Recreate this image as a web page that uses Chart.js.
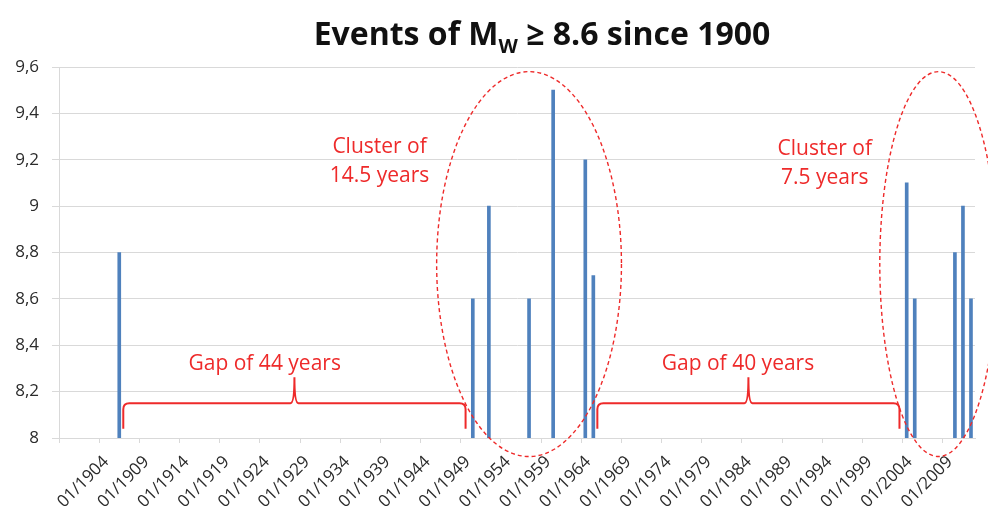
<!DOCTYPE html>
<html>
<head>
<meta charset="utf-8">
<script src="https://cdn.jsdelivr.net/npm/chart.js@4.4.1/dist/chart.umd.min.js"></script>
<style>
  html, body { margin: 0; padding: 0; background: #fff; }
  #wrap { width: 988px; height: 507px; position: relative; }
</style>
</head>
<body>
<div id="wrap"><canvas id="quakeChart"></canvas></div>
<script>
// events: decimal year (bars sit in the middle of their year) and magnitude Mw
const eventYears = [1906.5, 1950.5, 1952.5, 1957.5, 1960.5, 1964.5, 1965.5, 2004.5, 2005.5, 2010.5, 2011.5, 2012.5];
const magnitudes = [8.8, 8.6, 9.0, 8.6, 9.5, 9.2, 8.7, 9.1, 8.6, 8.8, 9.0, 8.6];

const xTickYears = [1899, 1904, 1909, 1914, 1919, 1924, 1929, 1934, 1939, 1944, 1949, 1954,
                    1959, 1964, 1969, 1974, 1979, 1984, 1989, 1994, 1999, 2004, 2009];
const xTickLabels = ['', '01/1904', '01/1909', '01/1914', '01/1919', '01/1924', '01/1929', '01/1934',
                     '01/1939', '01/1944', '01/1949', '01/1954', '01/1959', '01/1964', '01/1969',
                     '01/1974', '01/1979', '01/1984', '01/1989', '01/1994', '01/1999', '01/2004', '01/2009'];
const yTickValues = [8, 8.2, 8.4, 8.6, 8.8, 9, 9.2, 9.4, 9.6];
const yTickLabels = ['8', '8,2', '8,4', '8,6', '8,8', '9', '9,2', '9,4', '9,6'];

// annotations, given in data units (year, magnitude)
const clusters = [
  { year: 1957.5, mag: 8.75, yearRadius: 11.5, magRadius: 0.83 },
  { year: 2008.45, mag: 8.75, yearRadius: 7.3, magRadius: 0.83 }
];
const clusterTexts = [
  { year: 1938.9, mags: [9.229, 9.106], lines: ['Cluster of', '14.5 years'] },
  { year: 1994.3, mags: [9.221, 9.096], lines: ['Cluster of', '7.5 years'] }
];
const gaps = [
  { from: 1907.0, to: 1949.6, peak: 1928.3, text: 'Gap of 44 years', textYear: 1924.6 },
  { from: 1966.0, to: 2003.6, peak: 1984.8, text: 'Gap of 40 years', textYear: 1983.5 }
];
const braceEndMag = 8.04, braceMag = 8.15, bracePeakMag = 8.262, gapTextMag = 8.292;

const RED = '#ee2a2a';
const FONT = "'Open Sans', 'Noto Sans', sans-serif";

const annotations = {
  id: 'annotations',
  afterDraw(chart) {
    const { ctx, scales: { x, y } } = chart;
    ctx.save();
    ctx.strokeStyle = RED;
    ctx.fillStyle = RED;

    // dashed ellipses round the clusters
    ctx.lineWidth = 1.4;
    ctx.setLineDash([4, 3]);
    clusters.forEach(c => {
      const cx = x.getPixelForValue(c.year);
      const cy = y.getPixelForValue(c.mag);
      const rx = x.getPixelForValue(c.year + c.yearRadius) - cx;
      const ry = cy - y.getPixelForValue(c.mag + c.magRadius);
      ctx.beginPath();
      ctx.ellipse(cx, cy, rx, ry, 0, 0, Math.PI * 2);
      ctx.stroke();
    });
    ctx.setLineDash([]);

    // curly braces for the gaps
    ctx.lineWidth = 2;
    const r = 6, cusp = 4;
    const yEnd = y.getPixelForValue(braceEndMag);
    const yBar = y.getPixelForValue(braceMag);
    const yPeak = y.getPixelForValue(bracePeakMag);
    gaps.forEach(g => {
      const x1 = x.getPixelForValue(g.from);
      const x2 = x.getPixelForValue(g.to);
      const xp = x.getPixelForValue(g.peak);
      ctx.beginPath();
      ctx.moveTo(x1, yEnd);
      ctx.lineTo(x1, yBar + r);
      ctx.quadraticCurveTo(x1, yBar, x1 + r, yBar);
      ctx.lineTo(xp - cusp, yBar);
      ctx.quadraticCurveTo(xp, yBar, xp, yPeak);
      ctx.quadraticCurveTo(xp, yBar, xp + cusp, yBar);
      ctx.lineTo(x2 - r, yBar);
      ctx.quadraticCurveTo(x2, yBar, x2, yBar + r);
      ctx.lineTo(x2, yEnd);
      ctx.stroke();
    });

    // red texts
    ctx.font = `21px ${FONT}`;
    ctx.textAlign = 'center';
    ctx.textBaseline = 'alphabetic';
    gaps.forEach(g => {
      ctx.fillText(g.text, x.getPixelForValue(g.textYear), y.getPixelForValue(gapTextMag));
    });
    clusterTexts.forEach(t => {
      t.lines.forEach((line, i) => {
        ctx.fillText(line, x.getPixelForValue(t.year), y.getPixelForValue(t.mags[i]));
      });
    });

    // title with subscript
    const parts = [
      { text: 'Events of M', font: `bold 32px ${FONT}`, dy: 0 },
      { text: 'W', font: `bold 20px ${FONT}`, dy: 8 },
      { text: ' \u2265 8.6 since 1900', font: `bold 32px ${FONT}`, dy: 0 }
    ];
    let total = 0;
    parts.forEach(p => { ctx.font = p.font; p.w = ctx.measureText(p.text).width; total += p.w; });
    let tx = 542 - total / 2;
    ctx.fillStyle = '#111';
    ctx.textAlign = 'left';
    parts.forEach(p => {
      ctx.font = p.font;
      ctx.fillText(p.text, tx, 45 + p.dy);
      tx += p.w;
    });
    ctx.restore();
  }
};

const chart = new Chart(document.getElementById('quakeChart'), {
  type: 'bar',
  data: {
    datasets: [{
      label: 'Mw',
      data: eventYears.map((yr, i) => ({ x: yr, y: magnitudes[i] })),
      backgroundColor: '#4f81bd',
      borderWidth: 0,
      barThickness: 3
    }]
  },
  options: {
    responsive: true,
    maintainAspectRatio: false,
    animation: false,
    layout: { padding: { top: 67, right: 13, left: 0, bottom: 0 } },
    plugins: {
      legend: { display: false },
      tooltip: { enabled: false }
    },
    scales: {
      x: {
        type: 'linear',
        min: 1899,
        max: 2013,
        offset: false,
        afterBuildTicks: s => { s.ticks = xTickYears.map(v => ({ value: v })); },
        afterFit: s => { s.height = 69; },
        grid: { drawOnChartArea: false, offset: false, color: '#d9d9d9', tickLength: 5 },
        border: { color: '#d9d9d9' },
        ticks: {
          autoSkip: false,
          minRotation: 45,
          maxRotation: 45,
          padding: 9,
          labelOffset: 7,
          color: '#2b2b2b',
          font: { family: FONT, size: 17 },
          callback: (v, i) => xTickLabels[i]
        }
      },
      y: {
        min: 8,
        max: 9.6,
        afterBuildTicks: s => { s.ticks = yTickValues.map(v => ({ value: v })); },
        afterFit: s => { s.width = 59; },
        grid: { color: '#d9d9d9', tickLength: 7 },
        border: { color: '#d9d9d9' },
        ticks: {
          padding: 13,
          color: '#2b2b2b',
          font: { family: FONT, size: 17 },
          callback: (v, i) => yTickLabels[i]
        }
      }
    }
  },
  plugins: [annotations]
});
</script>
</body>
</html>
